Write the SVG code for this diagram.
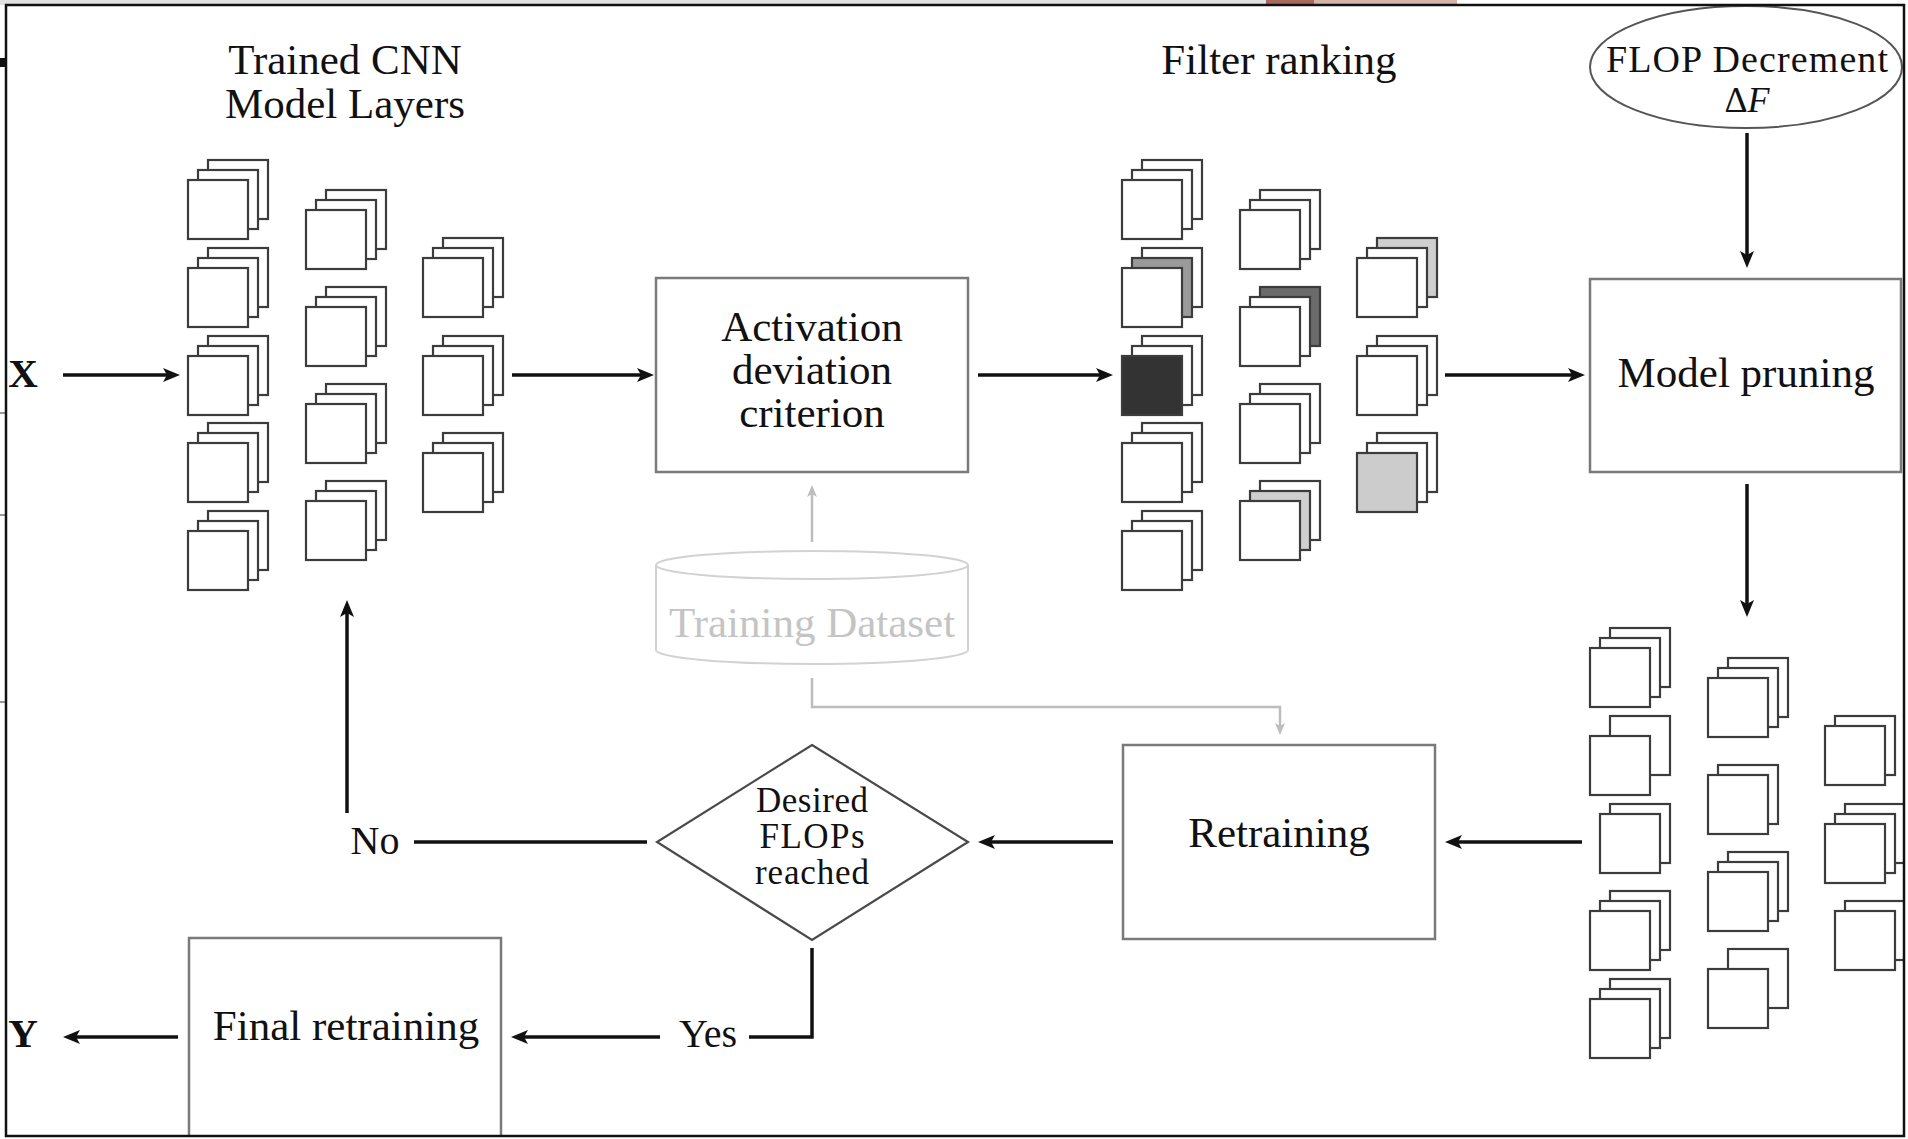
<svg xmlns="http://www.w3.org/2000/svg" xmlns:xlink="http://www.w3.org/1999/xlink" width="1908" height="1139" viewBox="0 0 1908 1139">
<style>
  text { font-family: "Liberation Serif", "Times New Roman", serif; fill: #111; }
  .t43 { font-size: 43px; text-anchor: middle; }
  .t35 { font-size: 35px; text-anchor: middle; }
  .t40 { font-size: 40px; text-anchor: middle; }
  .bold { font-weight: bold; font-size: 41px; text-anchor: middle; }
  .box { fill: #fff; stroke: #7a7a7a; stroke-width: 2.5; }
  .dia { fill: #fff; stroke: #4a4a4a; stroke-width: 2.2; }
  .con { fill: none; stroke: #111; stroke-width: 3.5; }
  .gcon { fill: none; stroke: #bdbdbd; stroke-width: 2.5; }
  .gray { fill: #c4c4c4; }
  .sq { stroke: #3c3c3c; stroke-width: 2.2; }
</style>
<defs>
  <marker id="ah" markerUnits="userSpaceOnUse" markerWidth="17" markerHeight="14" refX="12" refY="7" orient="auto">
    <path d="M0,0 L17,7 L0,14 L4,7 Z" fill="#111"/>
  </marker>
  <marker id="gah" markerUnits="userSpaceOnUse" markerWidth="12" markerHeight="10" refX="8" refY="5" orient="auto">
    <path d="M0,0 L12,5 L0,10 L3,5 Z" fill="#bdbdbd"/>
  </marker>
  <rect id="L2" x="20" y="-20" width="60" height="59" fill="#fff" stroke="#3c3c3c" stroke-width="2.2"/>
  <rect id="L1" x="10" y="-10" width="60" height="59" fill="#fff" stroke="#3c3c3c" stroke-width="2.2"/>
  <rect id="L0" x="0" y="0" width="60" height="59" fill="#fff" stroke="#3c3c3c" stroke-width="2.2"/>
  <g id="S"><use href="#L2"/><use href="#L1"/><use href="#L0"/></g>
  <clipPath id="frameClip"><rect x="6" y="5" width="1898" height="1131"/></clipPath>
</defs>

<!-- page background and artifacts -->
<rect x="0" y="0" width="1908" height="1139" fill="#fff"/>
<g id="background">
  <rect x="0" y="0" width="1266" height="5" fill="#e2e2e2"/>
  <rect x="1266" y="0" width="48" height="5" fill="#a86a5c"/>
  <rect x="1314" y="0" width="143" height="5" fill="#d6b3a8"/>
  <rect x="0" y="58" width="6" height="9" fill="#111"/>
  <line x1="0" y1="413" x2="6" y2="413" stroke="#333" stroke-width="1"/>
  <line x1="0" y1="515" x2="6" y2="515" stroke="#333" stroke-width="1"/>
  <line x1="0" y1="702" x2="6" y2="702" stroke="#333" stroke-width="1"/>
</g>

<g clip-path="url(#frameClip)">
<!-- Trained CNN model layers -->
<g id="trained-layers">
  <text class="t43" x="345" y="74">Trained CNN</text>
  <text class="t43" x="345" y="118">Model Layers</text>
  <use href="#S" x="188" y="180"/>
  <use href="#S" x="188" y="268"/>
  <use href="#S" x="188" y="356"/>
  <use href="#S" x="188" y="443"/>
  <use href="#S" x="188" y="531"/>
  <use href="#S" x="306" y="210"/>
  <use href="#S" x="306" y="307"/>
  <use href="#S" x="306" y="404"/>
  <use href="#S" x="306" y="501"/>
  <use href="#S" x="423" y="258"/>
  <use href="#S" x="423" y="356"/>
  <use href="#S" x="423" y="453"/>
</g>

<!-- Activation deviation criterion -->
<g id="activation">
  <rect class="box" x="656" y="278" width="312" height="194"/>
  <text class="t43" x="812" y="341">Activation</text>
  <text class="t43" x="812" y="384">deviation</text>
  <text class="t43" x="812" y="427">criterion</text>
</g>

<!-- Filter ranking -->
<g id="filter-ranking">
  <text class="t43" x="1279" y="74">Filter ranking</text>
  <use href="#S" x="1122" y="180"/>
  <g transform="translate(1122,268)">
    <use href="#L2"/>
    <rect class="sq" x="10" y="-10" width="60" height="59" fill="#9a9a9a"/>
    <use href="#L0"/>
  </g>
  <g transform="translate(1122,356)">
    <use href="#L2"/><use href="#L1"/>
    <rect class="sq" x="0" y="0" width="60" height="59" fill="#333"/>
  </g>
  <use href="#S" x="1122" y="443"/>
  <use href="#S" x="1122" y="531"/>
  <use href="#S" x="1240" y="210"/>
  <g transform="translate(1240,307)">
    <rect class="sq" x="20" y="-20" width="60" height="59" fill="#6b6b6b"/>
    <use href="#L1"/><use href="#L0"/>
  </g>
  <use href="#S" x="1240" y="404"/>
  <g transform="translate(1240,501)">
    <use href="#L2"/>
    <rect class="sq" x="10" y="-10" width="60" height="59" fill="#cfcfcf"/>
    <use href="#L0"/>
  </g>
  <g transform="translate(1357,258)">
    <rect class="sq" x="20" y="-20" width="60" height="59" fill="#cfcfcf"/>
    <use href="#L1"/><use href="#L0"/>
  </g>
  <use href="#S" x="1357" y="356"/>
  <g transform="translate(1357,453)">
    <use href="#L2"/><use href="#L1"/>
    <rect class="sq" x="0" y="0" width="60" height="59" fill="#cccccc"/>
  </g>
</g>

<!-- FLOP Decrement -->
<g id="flop-decrement">
  <ellipse cx="1746" cy="67" rx="156" ry="61" fill="#fff" stroke="#555" stroke-width="2"/>
  <text x="1747" y="72" font-size="38" text-anchor="middle" textLength="282" lengthAdjust="spacing">FLOP Decrement</text>
  <text x="1747" y="112" font-size="36" text-anchor="middle">Δ<tspan font-style="italic">F</tspan></text>
</g>

<!-- Model pruning -->
<g id="model-pruning">
  <rect class="box" x="1590" y="279" width="311" height="193"/>
  <text class="t43" x="1746" y="387">Model pruning</text>
</g>

<!-- Pruned model layers -->
<g id="pruned-layers">
  <use href="#S" x="1590" y="648"/>
  <g transform="translate(1590,736)"><use href="#L2"/><use href="#L0"/></g>
  <g transform="translate(1590,824)"><use href="#L2"/><use href="#L1"/></g>
  <use href="#S" x="1590" y="911"/>
  <use href="#S" x="1590" y="999"/>
  <use href="#S" x="1708" y="678"/>
  <g transform="translate(1708,775)"><use href="#L1"/><use href="#L0"/></g>
  <use href="#S" x="1708" y="872"/>
  <g transform="translate(1708,969)"><use href="#L2"/><use href="#L0"/></g>
  <g transform="translate(1825,726)"><use href="#L1"/><use href="#L0"/></g>
  <use href="#S" x="1825" y="824"/>
  <g transform="translate(1825,921)"><use href="#L2"/><use href="#L1"/></g>
</g>

<!-- Training Dataset -->
<g id="training-dataset">
  <path d="M656,565 L656,650 A156,14 0 0 0 968,650 L968,565" fill="#fff" stroke="#d2d2d2" stroke-width="2"/>
  <ellipse cx="812" cy="565" rx="156" ry="14" fill="#fff" stroke="#d2d2d2" stroke-width="2"/>
  <text class="t43 gray" x="812" y="637">Training Dataset</text>
</g>

<!-- Retraining -->
<g id="retraining">
  <rect class="box" x="1123" y="745" width="312" height="194"/>
  <text class="t43" x="1279" y="847">Retraining</text>
</g>

<!-- Decision -->
<g id="decision">
  <polygon class="dia" points="812,745 968,842 812,940 657,842"/>
  <text class="t35" x="812" y="812" textLength="112" lengthAdjust="spacing">Desired</text>
  <text class="t35" x="812" y="848" textLength="105" lengthAdjust="spacing">FLOPs</text>
  <text class="t35" x="812" y="884" textLength="114" lengthAdjust="spacing">reached</text>
</g>

<!-- Final retraining -->
<g id="final-retraining">
  <rect class="box" x="189" y="938" width="312" height="205"/>
  <text class="t43" x="346" y="1040">Final retraining</text>
</g>

<!-- Labels -->
<g id="labels">
  <text class="bold" x="23" y="387">X</text>
  <text class="bold" x="23" y="1047">Y</text>
  <text class="t40" x="375" y="854">No</text>
  <text class="t40" x="708" y="1047">Yes</text>
</g>

<!-- Connectors -->
<g id="connectors">
  <line class="con" x1="63" y1="375" x2="175" y2="375" marker-end="url(#ah)"/>
  <line class="con" x1="512" y1="375" x2="649" y2="375" marker-end="url(#ah)"/>
  <line class="con" x1="978" y1="375" x2="1108" y2="375" marker-end="url(#ah)"/>
  <line class="con" x1="1445" y1="375" x2="1580" y2="375" marker-end="url(#ah)"/>
  <line class="con" x1="1747" y1="133" x2="1747" y2="263" marker-end="url(#ah)"/>
  <line class="con" x1="1747" y1="484" x2="1747" y2="612" marker-end="url(#ah)"/>
  <line class="con" x1="1582" y1="842" x2="1450" y2="842" marker-end="url(#ah)"/>
  <line class="con" x1="1113" y1="842" x2="983" y2="842" marker-end="url(#ah)"/>
  <line class="con" x1="647" y1="842" x2="414" y2="842"/>
  <line class="con" x1="347" y1="813" x2="347" y2="605" marker-end="url(#ah)"/>
  <polyline class="con" points="812,948 812,1037 749,1037"/>
  <line class="con" x1="660" y1="1037" x2="516" y2="1037" marker-end="url(#ah)"/>
  <line class="con" x1="178" y1="1037" x2="68" y2="1037" marker-end="url(#ah)"/>
  <line class="gcon" x1="812" y1="542" x2="812" y2="489" marker-end="url(#gah)"/>
  <polyline class="gcon" points="812,678 812,707 1280,707 1280,731" marker-end="url(#gah)"/>
</g>
</g>

<!-- frame -->
<rect x="6" y="5" width="1898" height="1131" fill="none" stroke="#111" stroke-width="2.5"/>
</svg>
